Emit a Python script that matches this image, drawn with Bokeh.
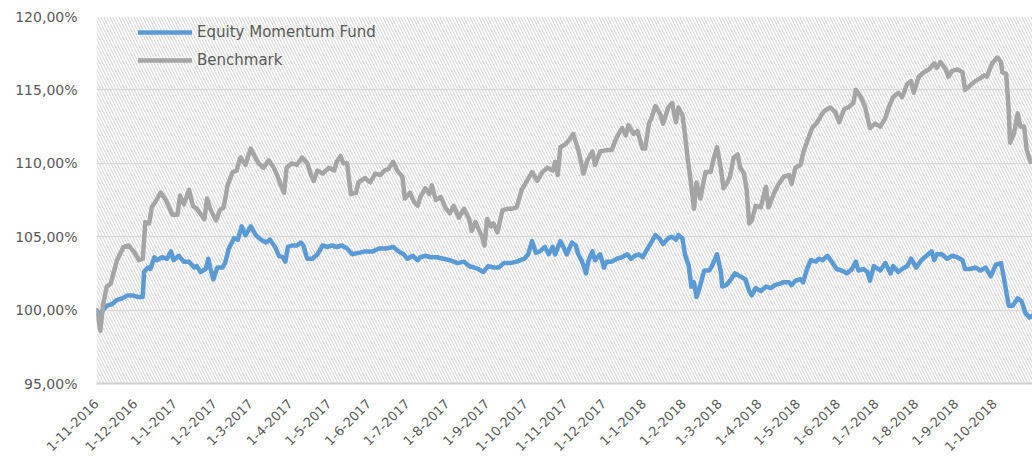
import pandas as pd
from math import pi
from bokeh.plotting import figure
from bokeh.models import Range1d, FixedTicker, BoxAnnotation, Legend, LegendItem
from bokeh.embed import file_html
from bokeh.resources import INLINE

# ---------------- data ----------------
start_date = "2016-11-01"
series_names = ["Equity Momentum Fund", "Benchmark"]

# days after 1-11-2016, value in %
fund_days = [0, 2, 4, 8, 12, 16, 20, 24, 28, 32, 36, 37, 40, 42, 45, 47, 51, 55, 58, 60,
             64, 68, 72, 76, 78, 81, 85, 87, 89, 91, 94, 98, 100, 103, 107, 110, 113, 116, 120, 124,
             128, 132, 135, 139, 142, 145, 147, 149, 152, 156, 159, 161, 164, 168, 172, 176, 180, 183, 187, 191,
             195, 199, 204, 209, 215, 220, 225, 231, 235, 239, 242, 246, 250, 252, 256, 260, 265, 270, 275, 281,
             286, 290, 294, 297, 301, 305, 309, 313, 317, 322, 327, 333, 336, 339, 342, 345, 349, 352, 355, 357,
             361, 364, 366, 370, 373, 375, 378, 381, 383, 386, 388, 392, 395, 397, 401, 405, 409, 413, 416, 419,
             422, 425, 429, 431, 435, 438, 441, 445, 448, 451, 453, 456, 458, 461, 463, 465, 467, 469, 473, 477,
             479, 483, 486, 487, 490, 493, 497, 501, 505, 508, 510, 513, 517, 521, 525, 528, 532, 535, 539, 541,
             544, 548, 550, 553, 556, 560, 562, 565, 569, 573, 576, 580, 584, 588, 591, 593, 597, 600, 602, 605,
             610, 614, 618, 620, 624, 627, 631, 634, 638, 642, 646, 650, 652, 654, 658, 662, 666, 670, 674, 676,
             680, 684, 688, 692, 696, 700, 704, 706, 710, 713, 717, 720, 723, 726, 728]
fund_values = [100.0, 99.5, 99.9, 100.3, 100.4, 100.7, 100.8, 101.0, 101.0, 100.9, 100.9, 102.6, 102.9, 102.8, 103.6, 103.4, 103.6, 103.5, 104.0, 103.4,
               103.7, 103.3, 103.3, 102.9, 103.0, 102.6, 102.8, 103.5, 102.7, 102.1, 102.9, 102.9, 103.2, 104.2, 104.9, 104.8, 105.7, 105.1, 105.7, 105.1,
               104.8, 104.6, 104.8, 104.3, 103.7, 103.6, 103.3, 104.3, 104.4, 104.4, 104.6, 104.4, 103.5, 103.5, 103.8, 104.4, 104.3, 104.4, 104.3, 104.4,
               104.2, 103.8, 103.9, 104.0, 104.0, 104.2, 104.2, 104.3, 104.0, 103.8, 103.5, 103.7, 103.4, 103.6, 103.7, 103.6, 103.6, 103.5, 103.4, 103.2,
               103.3, 103.0, 102.9, 102.8, 102.6, 103.0, 102.9, 102.9, 103.2, 103.2, 103.3, 103.5, 103.8, 104.7, 103.9, 104.0, 104.3, 103.8, 104.3, 103.8,
               104.7, 104.2, 103.8, 104.6, 104.4, 103.8, 103.3, 102.5, 103.4, 104.0, 103.4, 103.8, 102.9, 103.3, 103.3, 103.5, 103.6, 103.8, 103.5, 103.7,
               103.8, 103.6, 104.2, 104.5, 105.1, 104.9, 104.5, 104.9, 105.0, 104.8, 105.1, 104.9, 103.8, 103.0, 101.6, 101.9, 100.9, 101.4, 102.7, 102.7,
               103.0, 103.8, 102.6, 101.6, 101.7, 102.0, 102.5, 102.3, 102.1, 101.3, 101.0, 101.5, 101.3, 101.6, 101.5, 101.7, 101.8, 101.9, 101.9, 101.7,
               102.0, 102.1, 101.9, 102.8, 103.4, 103.3, 103.5, 103.4, 103.7, 103.2, 102.8, 102.7, 102.5, 102.8, 103.3, 102.7, 102.8, 102.6, 102.0, 103.0,
               102.7, 103.2, 102.5, 103.0, 102.6, 102.8, 103.0, 103.5, 102.9, 103.4, 103.7, 104.0, 103.4, 103.8, 103.8, 103.5, 103.7, 103.6, 103.4, 102.8,
               102.8, 102.9, 102.7, 102.9, 102.3, 103.1, 103.2, 102.3, 100.3, 100.3, 100.8, 100.6, 99.8, 99.5, 99.6]

bench_days = [0, 3, 5, 8, 11, 16, 21, 25, 29, 33, 36, 38, 41, 43, 46, 50, 54, 59, 63, 65,
              68, 72, 75, 78, 84, 86, 89, 93, 96, 99, 102, 106, 109, 112, 116, 120, 126, 130, 134, 138,
              141, 143, 146, 148, 152, 156, 160, 164, 167, 169, 172, 176, 181, 185, 187, 190, 192, 195, 198, 202,
              204, 209, 213, 217, 221, 224, 227, 231, 234, 238, 240, 244, 247, 250, 252, 256, 259, 261, 264, 268,
              272, 275, 278, 282, 286, 290, 292, 295, 298, 300, 302, 304, 307, 309, 312, 316, 320, 323, 327, 331,
              335, 339, 343, 347, 351, 355, 357, 359, 361, 365, 368, 371, 375, 379, 382, 386, 388, 392, 397, 401,
              405, 409, 412, 414, 418, 421, 425, 427, 430, 432, 435, 439, 441, 445, 448, 451, 453, 456, 458, 460,
              462, 465, 467, 470, 474, 478, 480, 483, 486, 488, 491, 493, 496, 499, 501, 504, 506, 508, 510, 513,
              517, 521, 523, 527, 531, 535, 539, 541, 544, 548, 550, 554, 557, 561, 565, 567, 571, 575, 578, 582,
              585, 589, 591, 595, 598, 602, 606, 610, 614, 617, 620, 624, 627, 631, 634, 636, 640, 644, 648, 652,
              654, 657, 661, 663, 666, 670, 674, 676, 680, 684, 688, 691, 693, 697, 701, 704, 705, 708, 710, 711,
              714, 717, 719, 722, 724, 727]
bench_values = [100.0, 98.6, 100.3, 101.6, 101.8, 103.4, 104.3, 104.4, 104.0, 103.4, 103.5, 106.0, 105.9, 107.0, 107.4, 108.0, 107.5, 106.5, 106.5, 107.8,
                107.2, 108.2, 107.1, 106.9, 106.2, 107.6, 106.8, 106.1, 106.8, 107.0, 108.5, 109.4, 109.5, 110.4, 109.9, 111.0, 110.0, 109.7, 110.2, 109.7,
                109.1, 108.6, 108.0, 109.7, 110.0, 109.9, 110.4, 110.0, 109.2, 108.8, 109.5, 109.3, 109.7, 109.5, 110.1, 110.5, 110.0, 110.0, 107.9, 108.0,
                108.7, 109.0, 108.7, 109.3, 109.2, 109.5, 109.6, 110.1, 109.5, 109.1, 107.6, 108.0, 107.4, 107.1, 107.7, 108.3, 107.9, 108.5, 107.5, 107.7,
                106.9, 106.6, 107.1, 106.3, 106.9, 106.2, 105.4, 106.0, 105.4, 105.0, 104.4, 106.2, 105.7, 105.9, 105.3, 106.8, 106.9, 106.9, 107.0, 108.2,
                108.8, 109.4, 108.8, 109.4, 109.7, 109.5, 110.1, 109.2, 111.1, 111.3, 111.6, 112.0, 110.9, 109.3, 110.2, 110.8, 109.9, 110.8, 110.9, 110.9,
                111.8, 112.4, 111.9, 112.6, 112.0, 112.2, 111.0, 111.0, 112.7, 113.1, 113.9, 113.3, 112.7, 113.8, 114.1, 112.8, 113.8, 113.3, 112.0, 110.4,
                109.1, 106.9, 108.7, 107.6, 109.4, 109.4, 110.2, 111.1, 109.6, 108.3, 108.7, 109.1, 110.4, 110.6, 109.7, 109.3, 108.2, 105.9, 106.1, 107.1,
                107.0, 108.4, 107.0, 107.9, 108.6, 109.1, 109.2, 108.6, 109.7, 109.9, 110.7, 111.7, 112.4, 112.8, 113.4, 113.6, 113.8, 113.5, 112.8, 113.7,
                113.8, 114.1, 115.0, 114.5, 113.9, 112.4, 112.7, 112.5, 113.1, 113.9, 114.5, 114.8, 114.5, 115.4, 115.6, 114.8, 115.9, 116.2, 116.4, 116.8,
                116.5, 116.9, 116.4, 115.9, 116.3, 116.4, 116.2, 115.0, 115.3, 115.6, 115.8, 116.0, 115.9, 116.8, 117.2, 116.9, 116.2, 116.1, 113.6, 111.4,
                112.0, 113.4, 112.5, 112.5, 110.9, 110.1]

y_ticks = [95, 100, 105, 110, 115, 120]
y_tick_labels = ["95,00%", "100,00%", "105,00%", "110,00%", "115,00%", "120,00%"]

# ---------------- derived ----------------
start = pd.Timestamp(start_date)
month_starts = pd.date_range("2016-11-01", "2018-10-01", freq="MS")
x_ticks = [int((d - start).days) for d in month_starts]
x_tick_labels = [f"{d.day}-{d.month}-{d.year}" for d in month_starts]

FONT = "DejaVu Sans"
TXT = "#595959"

W, H = 1032, 463
BL, BR, BT, BB = 96, 0, 16, 80
p = figure(width=W, height=H, output_backend="svg", toolbar_location=None,
           x_range=Range1d(0, 728.5), y_range=Range1d(95, 120),
           min_border_left=BL, min_border_right=BR, min_border_top=BT, min_border_bottom=BB)
p.outline_line_color = None
p.background_fill_color = "white"
p.border_fill_color = "white"

# hatched plot area
p.add_layout(BoxAnnotation(fill_alpha=0, line_alpha=0, hatch_pattern="\\",
                           hatch_color="#dcdcdc", hatch_scale=6, hatch_weight=1.2,
                           level="image"))

p.xgrid.visible = False
p.ygrid.grid_line_color = "#d9d9d9"
p.ygrid.grid_line_width = 1.5
p.ygrid.ticker = FixedTicker(ticks=y_ticks)

p.yaxis.ticker = FixedTicker(ticks=y_ticks)
p.yaxis.major_label_overrides = {t: l for t, l in zip(y_ticks, y_tick_labels)}
p.yaxis.axis_line_color = None
p.yaxis.major_tick_line_color = None
p.yaxis.minor_tick_line_color = None
p.yaxis.major_tick_out = 0
p.yaxis.major_label_standoff = 19
p.yaxis.major_label_text_font = FONT
p.yaxis.major_label_text_font_size = "14px"
p.yaxis.major_label_text_color = TXT

p.xaxis.ticker = FixedTicker(ticks=x_ticks)
p.xaxis.major_label_overrides = {t: l for t, l in zip(x_ticks, x_tick_labels)}
p.xaxis.major_label_orientation = pi / 4
p.xaxis.axis_line_color = "#d0d0d0"
p.xaxis.axis_line_width = 2
p.xaxis.major_tick_line_color = None
p.xaxis.minor_tick_line_color = None
p.xaxis.major_tick_out = 0
p.xaxis.major_label_standoff = 18
p.xaxis.major_label_text_font = FONT
p.xaxis.major_label_text_font_size = "13px"
p.xaxis.major_label_text_color = TXT

r_fund = p.line(fund_days, fund_values, line_color="#5b9bd5", line_width=4.5,
                line_join="round", line_cap="round")
r_bench = p.line(bench_days, bench_values, line_color="#a5a5a5", line_width=4.5,
                 line_join="round", line_cap="round")

frame_h = H - BT - BB
pad = 6
leg_h = 2 * 20 + 8 + 2 * pad
legend = Legend(items=[LegendItem(label=series_names[0], renderers=[r_fund]),
                       LegendItem(label=series_names[1], renderers=[r_bench])],
                location=(36, frame_h - leg_h), orientation="vertical",
                glyph_width=54, glyph_height=20, label_height=20, spacing=8,
                padding=pad, margin=0, label_standoff=5,
                label_text_font=FONT, label_text_font_size="15px", label_text_color=TXT,
                background_fill_alpha=0, border_line_alpha=0)
p.add_layout(legend, "center")

open("out.html", "w").write(file_html(p, INLINE))
